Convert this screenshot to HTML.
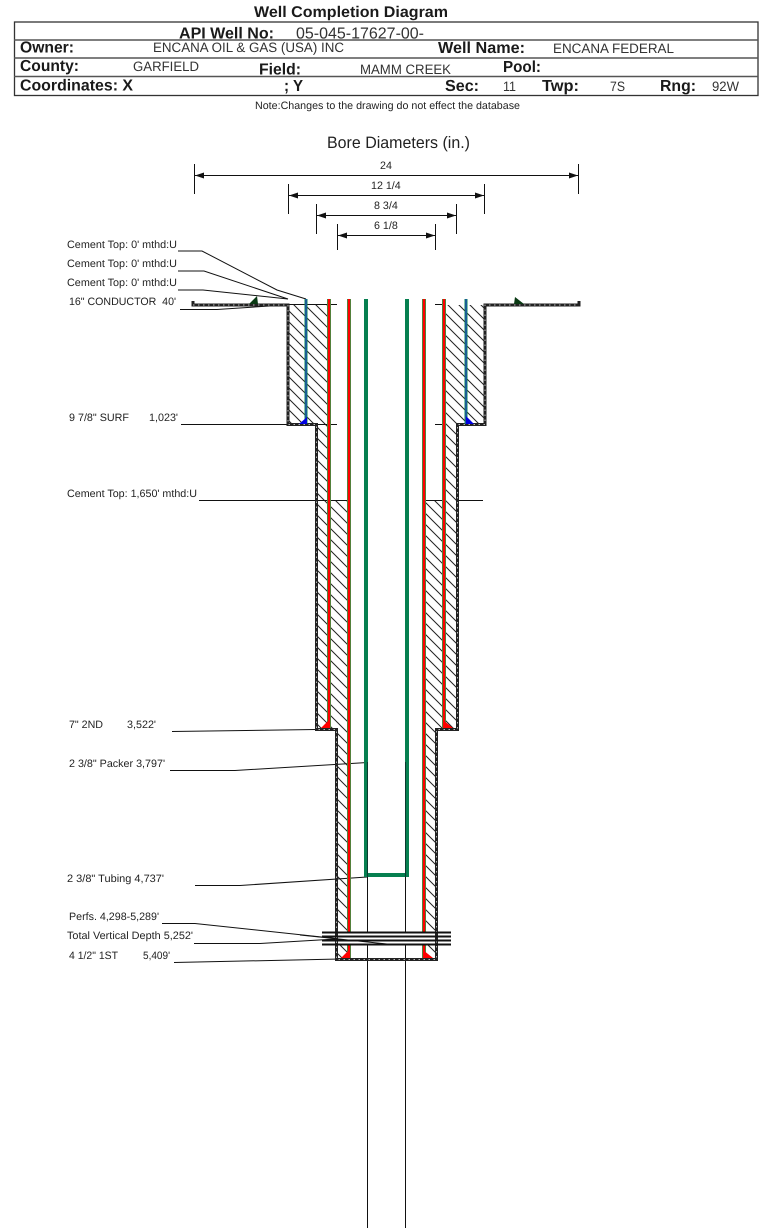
<!DOCTYPE html>
<html><head><meta charset="utf-8"><style>
html,body{margin:0;padding:0;background:#fff;width:759px;height:1228px;overflow:hidden}
svg{display:block}
text{font-family:"Liberation Sans",sans-serif;fill:#1a1a1a;text-rendering:geometricPrecision}
.b{font-weight:bold;font-size:16px}
.v{font-size:13.6px;fill:#333}
.l{font-size:10.7px;fill:#222}
</style></head><body>
<svg width="759" height="1228" viewBox="0 0 759 1228" xmlns="http://www.w3.org/2000/svg">
<defs>
<pattern id="h" width="11" height="11" patternUnits="userSpaceOnUse">
<path d="M-2 -2L13 13M-2 9L4 15M9 -2L15 4" stroke="#222" stroke-width="1" fill="none"/>
</pattern>
</defs>
<!-- header -->
<text x="254" y="17" style="font-size:15.5px;font-weight:bold" textLength="194" lengthAdjust="spacingAndGlyphs">Well Completion Diagram</text>
<rect x="14.5" y="22" width="743.5" height="73.5" fill="none" stroke="#333" stroke-width="1.3"/>
<path d="M14 40H758M14 58H758M14 76.5H758" stroke="#555" stroke-width="1.5" fill="none"/>
<text class="b" x="179" y="38.5" textLength="95" lengthAdjust="spacingAndGlyphs">API Well No:</text>
<text x="296" y="38.5" style="font-size:16px;fill:#333" textLength="128" lengthAdjust="spacingAndGlyphs">05-045-17627-00-</text>
<text class="b" x="20" y="52.5" textLength="54" lengthAdjust="spacingAndGlyphs">Owner:</text>
<text class="v" x="153" y="52" textLength="191" lengthAdjust="spacingAndGlyphs">ENCANA OIL &amp; GAS (USA) INC</text>
<text class="b" x="438" y="53" textLength="87" lengthAdjust="spacingAndGlyphs">Well Name:</text>
<text class="v" x="553" y="53" textLength="121" lengthAdjust="spacingAndGlyphs">ENCANA FEDERAL</text>
<text class="b" x="20" y="71" textLength="59" lengthAdjust="spacingAndGlyphs">County:</text>
<text class="v" x="133" y="71" textLength="66" lengthAdjust="spacingAndGlyphs">GARFIELD</text>
<text class="b" x="259" y="74.5" textLength="42" lengthAdjust="spacingAndGlyphs">Field:</text>
<text class="v" x="360" y="74" textLength="91" lengthAdjust="spacingAndGlyphs">MAMM CREEK</text>
<text class="b" x="503" y="72" textLength="38" lengthAdjust="spacingAndGlyphs">Pool:</text>
<text class="b" x="20" y="90.5" textLength="113" lengthAdjust="spacingAndGlyphs">Coordinates: X</text>
<text class="b" x="284" y="91" textLength="19" lengthAdjust="spacingAndGlyphs">; Y</text>
<text class="b" x="445" y="91" textLength="34" lengthAdjust="spacingAndGlyphs">Sec:</text>
<text class="v" x="503" y="91" textLength="13" lengthAdjust="spacingAndGlyphs">11</text>
<text class="b" x="542" y="91" textLength="37" lengthAdjust="spacingAndGlyphs">Twp:</text>
<text class="v" x="610" y="91" textLength="15" lengthAdjust="spacingAndGlyphs">7S</text>
<text class="b" x="660" y="91" textLength="36" lengthAdjust="spacingAndGlyphs">Rng:</text>
<text class="v" x="712" y="91" textLength="27" lengthAdjust="spacingAndGlyphs">92W</text>
<text x="255" y="109" style="font-size:10.7px;fill:#222" textLength="265" lengthAdjust="spacingAndGlyphs">Note:Changes to the drawing do not effect the database</text>
<text x="327" y="148" style="font-size:16.5px;fill:#222" textLength="143" lengthAdjust="spacingAndGlyphs">Bore Diameters (in.)</text>

<!-- dimensions -->
<g stroke="#111" stroke-width="1" fill="none">
<path d="M194.5 164V194M578.5 164V194M194 175.5H578"/>
<path d="M288.5 184V214M484.5 184V214M288 195.5H484"/>
<path d="M316.5 204V234M456.5 204V234M316 215.5H456"/>
<path d="M337.5 224V250M435.5 224V250M337 235.5H435"/>
</g>
<g fill="#111">
<path d="M195 175.5l9-3v6zM578 175.5l-9-3v6zM289 195.5l9-3v6zM484 195.5l-9-3v6zM317 215.5l9-3v6zM456 215.5l-9-3v6zM338 235.5l9-3v6zM435 235.5l-9-3v6z"/>
</g>
<text class="l" x="380" y="169">24</text>
<text class="l" x="371" y="189">12 1/4</text>
<text class="l" x="374" y="209">8 3/4</text>
<text class="l" x="374" y="229">6 1/8</text>

<!-- hatch -->
<g fill="url(#h)">
<rect x="289" y="305" width="40" height="119"/>
<rect x="316" y="424" width="13" height="306"/>
<rect x="330" y="500" width="19" height="230"/>
<rect x="337" y="730" width="12" height="202"/>
<rect x="337" y="944" width="12" height="15"/>
<rect x="444" y="305" width="41" height="119"/>
<rect x="444" y="424" width="13" height="306"/>
<rect x="424" y="500" width="20" height="230"/>
<rect x="424" y="730" width="12" height="202"/>
<rect x="424" y="944" width="12" height="15"/>
</g>

<!-- thin lines -->
<g stroke="#111" stroke-width="1" fill="none">
<path d="M337 304.5H288M435 304.5H444"/>
<path d="M181 424.5H337M435 424.5H444"/>
<path d="M199 500.5H349M425 500.5H444M457 500.5H483"/>
<path d="M367.5 762V1228M405.5 762V1228"/>
<path d="M178 251H202L277 290L306 299"/>
<path d="M178 271H204L288 299"/>
<path d="M178 290H203L288 299"/>
<path d="M180 309.5H217L285 305"/>
<path d="M172 731.5L316 729.5"/>
<path d="M170 770.5H235L367.5 762.5"/>
<path d="M195 885.5H240L367 877"/>
<path d="M162 923.5H195L387 944"/>
<path d="M194 943.5H260L336 939"/>
<path d="M174 962.5L340 959"/>
</g>

<!-- wall outline -->
<path d="M193 301V305H288V424.5H316.5V729.5H336.5V959.5H436.5V729.5H457.5V424.5H485V305H579V301" fill="none" stroke="#222" stroke-width="3"/>
<path d="M193 305H288V424.5H316.5V729.5H336.5V959.5H436.5V729.5H457.5V424.5H485V305H579" fill="none" stroke="#bbb" stroke-width="1" stroke-dasharray="1.5 3.5"/>

<!-- casings -->
<g fill="none">
<path d="M306 299V424M466 299V424" stroke="#0a8a55" stroke-width="3"/>
<path d="M306 299V424M466 299V424" stroke="#1e50a8" stroke-width="1.5"/>
<path d="M329 299V728M444 299V728M349 299V932M349 944V958M424 299V932M424 944V958" stroke="#2aa04a" stroke-width="4"/>
<path d="M329 299V728M444 299V728M349 299V932M349 944V958M424 299V932M424 944V958" stroke="#ff0000" stroke-width="2.4"/>
<path d="M366 299V875H407V299" stroke="#067f50" stroke-width="4"/>
<path d="M367.5 762V877M405.5 762V877" stroke="#0a3a30" stroke-width="1" />
</g>

<!-- shoes -->
<path d="M249 304L257 296L258 304ZM514 304L515 297L524 304Z" fill="#0a3a14"/>
<path d="M299 424L307 417V424ZM466 416V424H474Z" fill="#0000e0"/>
<path d="M321 728L329 720L330 728ZM443 720V728H453ZM341 958L349 950L350 958ZM423 950V958H433Z" fill="#ff0000"/>

<!-- band -->
<rect x="338" y="932" width="97" height="12" fill="#fff"/>
<path d="M322 932.5H451M322 936.5H451M322 940.5H451M322 944.5H451" stroke="#111" stroke-width="2" fill="none"/>
<path d="M300 935L387 944" stroke="#111" stroke-width="1" fill="none"/>

<!-- labels -->
<text class="l" x="67" y="248" textLength="110" lengthAdjust="spacingAndGlyphs">Cement Top: 0' mthd:U</text>
<text class="l" x="67" y="267" textLength="110" lengthAdjust="spacingAndGlyphs">Cement Top: 0' mthd:U</text>
<text class="l" x="67" y="286" textLength="110" lengthAdjust="spacingAndGlyphs">Cement Top: 0' mthd:U</text>
<text class="l" x="69" y="305" textLength="107" lengthAdjust="spacingAndGlyphs" xml:space="preserve">16" CONDUCTOR  40'</text>
<text class="l" x="69" y="421" textLength="60" lengthAdjust="spacingAndGlyphs">9 7/8" SURF</text>
<text class="l" x="149" y="421" textLength="29" lengthAdjust="spacingAndGlyphs">1,023'</text>
<text class="l" x="67" y="497" textLength="130" lengthAdjust="spacingAndGlyphs">Cement Top: 1,650' mthd:U</text>
<text class="l" x="69" y="728" textLength="34" lengthAdjust="spacingAndGlyphs">7" 2ND</text>
<text class="l" x="127" y="728" textLength="29" lengthAdjust="spacingAndGlyphs">3,522'</text>
<text class="l" x="69" y="767" textLength="96" lengthAdjust="spacingAndGlyphs">2 3/8" Packer 3,797'</text>
<text class="l" x="67" y="882" textLength="97" lengthAdjust="spacingAndGlyphs">2 3/8" Tubing 4,737'</text>
<text class="l" x="69" y="920" textLength="90" lengthAdjust="spacingAndGlyphs">Perfs. 4,298-5,289'</text>
<text class="l" x="67" y="939" textLength="126" lengthAdjust="spacingAndGlyphs">Total Vertical Depth 5,252'</text>
<text class="l" x="69" y="959" textLength="49" lengthAdjust="spacingAndGlyphs">4 1/2" 1ST</text>
<text class="l" x="143" y="959" textLength="27" lengthAdjust="spacingAndGlyphs">5,409'</text>
</svg>
</body></html>
